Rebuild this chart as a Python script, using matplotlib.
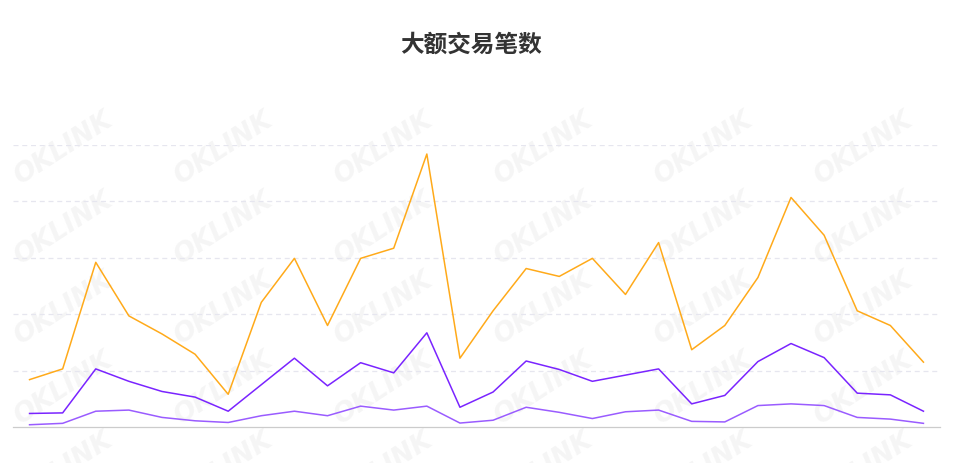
import matplotlib
matplotlib.use("Agg")
import matplotlib.pyplot as plt
import numpy as np

plt.rcParams['font.family'] = ['Noto Sans CJK SC', 'DejaVu Sans']

title = "大额交易笔数"
days = list(range(1, 29))
big = [84, 103, 292, 197, 165, 129, 58, 221, 299, 180, 299, 317, 484, 122,
       206, 281, 267, 299, 235, 327, 137, 180, 265, 407, 340, 206, 180, 115]
mid = [24, 25, 103, 81, 63, 53, 28, 75, 122, 73, 114, 96, 167, 35,
       62, 117, 102, 81, 92, 103, 41, 56, 116, 148, 123, 60, 57, 28]
small = [4, 6.5, 28, 30, 17, 11, 8, 20, 28, 20, 37, 30, 37, 7,
         12, 35, 26, 15, 27, 30, 10, 9, 38, 41, 38, 17, 14, 6.5]

fig = plt.figure(figsize=(9.58, 4.64), dpi=100)
ax = fig.add_axes([13/958, 36/464, 927/958, 282/464])
ax.set_zorder(1)
ax.patch.set_visible(False)

# watermark grid
for cx in [63, 223, 383, 543, 703, 863]:
    for cy in [149, 229, 309, 389, 469]:
        fig.text(cx/958, 1 - cy/464, "OKLINK", rotation=33, fontsize=19,
                 fontweight='bold', style='italic', color='#f5f5f5',
                 ha='center', va='center', family='DejaVu Sans', zorder=0)

x = np.arange(len(days))
ax.plot(x, big, color='#FFAA1A', lw=1.1)
ax.plot(x, mid, color='#7A24FF', lw=1.1)
ax.plot(x, small, color='#9A5CFF', lw=1.1)

ax.set_xlim(-0.5, len(days) - 0.5)
ax.set_ylim(0, 500)
ax.set_yticks([100, 200, 300, 400, 500])
ax.yaxis.grid(True, color='#e6e6ef', ls=(0, (4, 3)), lw=0.9)
ax.set_xticks([])
ax.tick_params(left=False, labelleft=False)
for s in ['top', 'right', 'left']:
    ax.spines[s].set_visible(False)
ax.spines['bottom'].set_color('#cccccc')
ax.spines['bottom'].set_linewidth(0.9)

fig.text(471/958, 1 - 45/464, title, ha='center', va='center',
         fontsize=17, fontweight='bold', color='#333333')

fig.savefig("out.png", dpi=100)
